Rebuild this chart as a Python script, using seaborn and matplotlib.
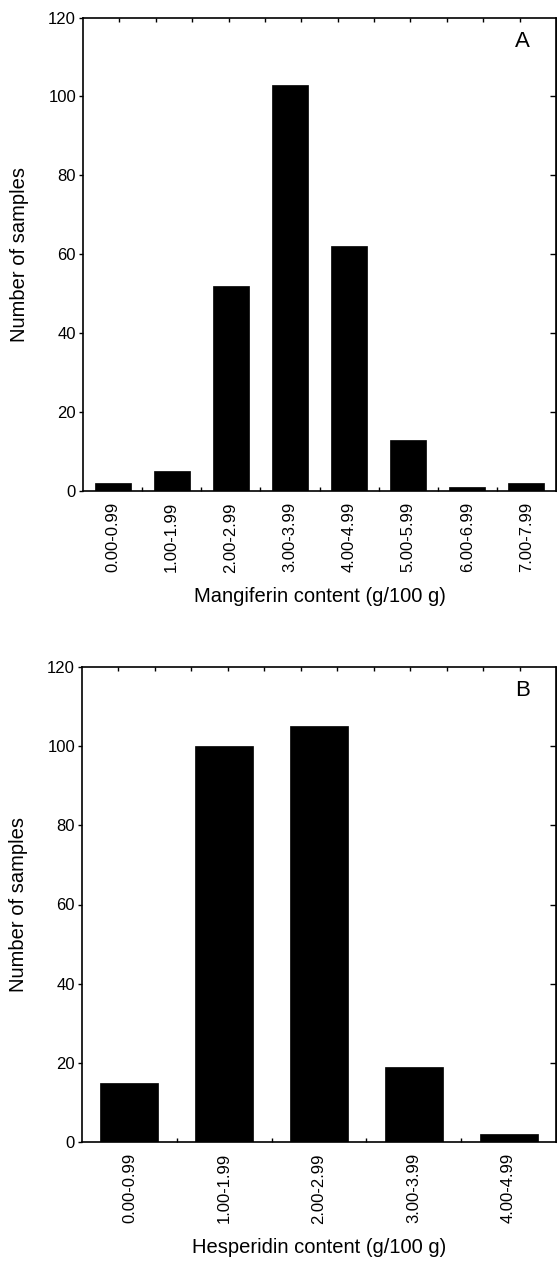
import numpy as np
import pandas as pd
import seaborn as sns
import matplotlib
matplotlib.use('Agg')
from matplotlib import pyplot as plt
from matplotlib.ticker import FixedLocator, NullFormatter

# values
mangiferin_bins = ['0.00-0.99', '1.00-1.99', '2.00-2.99', '3.00-3.99',
                   '4.00-4.99', '5.00-5.99', '6.00-6.99', '7.00-7.99']
mangiferin_counts = [2, 5, 52, 103, 62, 13, 1, 2]
hesperidin_bins = ['0.00-0.99', '1.00-1.99', '2.00-2.99', '3.00-3.99', '4.00-4.99']
hesperidin_counts = [15, 100, 105, 19, 2]
y_ticks = [0, 20, 40, 60, 80, 100, 120]

sns.set_style('white')
plt.rcParams['font.family'] = ['Liberation Sans', 'DejaVu Sans']
plt.rcParams.update({'text.color': 'black', 'axes.labelcolor': 'black',
                     'xtick.color': 'black', 'ytick.color': 'black'})

W, H = 557, 1262
fig = plt.figure(figsize=(W / 100, H / 100), dpi=100)


def panel(rect, bins, counts, xlabel, letter):
    ax = fig.add_axes(rect)
    df = pd.DataFrame({'bin': bins, 'n': counts})
    sns.barplot(data=df, x='bin', y='n', color='black', edgecolor='black',
                linewidth=0.5, width=0.61, saturation=1, ax=ax)
    n = len(bins)
    ax.set_xlim(-0.5, n - 0.5)
    ax.set_ylim(0, 120)
    ax.set_yticks(y_ticks)
    for s in ax.spines.values():
        s.set_visible(True)
        s.set_color('black')
        s.set_linewidth(1.2)
    # left ticks outward, labels
    ax.tick_params(axis='y', direction='out', length=3, width=1, labelsize=12, pad=2, left=True)
    # bottom: no major tick marks, minor ticks at bin borders pointing in
    ax.tick_params(axis='x', which='major', length=0, labelsize=12, pad=8, rotation=90)
    ax.xaxis.set_minor_locator(FixedLocator(np.arange(0.5, n - 1, 1.0)))
    ax.xaxis.set_minor_formatter(NullFormatter())
    ax.tick_params(axis='x', which='minor', direction='in', length=3, width=1, bottom=True)
    ax.set_xlabel(xlabel, fontsize=14.5)
    ax.xaxis.set_label_coords(0.5, -0.222)
    ax.xaxis.label.set_va('center')
    ax.set_ylabel('Number of samples', fontsize=14.5)
    ax.yaxis.set_label_coords(-0.135, 0.5)
    ax.yaxis.label.set_va('center')
    # right side ticks pointing in
    right = ax.secondary_yaxis('right')
    right.set_yticks(y_ticks[1:-1])
    right.tick_params(direction='in', length=4, width=1, labelright=False)
    # top ticks pointing in, evenly spaced
    top = ax.twiny()
    top.set_xlim(0, 13)
    top.set_xticks(range(1, 13))
    top.tick_params(direction='in', length=3, width=1, labeltop=False)
    for s in top.spines.values():
        s.set_visible(False)
    ax.text(0.93, 0.95, letter, transform=ax.transAxes, fontsize=16,
            ha='center', va='center')
    return ax


panel([83 / W, 1 - 491 / H, 473 / W, 473.5 / H], mangiferin_bins, mangiferin_counts,
      'Mangiferin content (g/100 g)', 'A')
panel([82 / W, 1 - 1142 / H, 474 / W, 475 / H], hesperidin_bins, hesperidin_counts,
      'Hesperidin content (g/100 g)', 'B')

fig.savefig('out.png', dpi=100)
